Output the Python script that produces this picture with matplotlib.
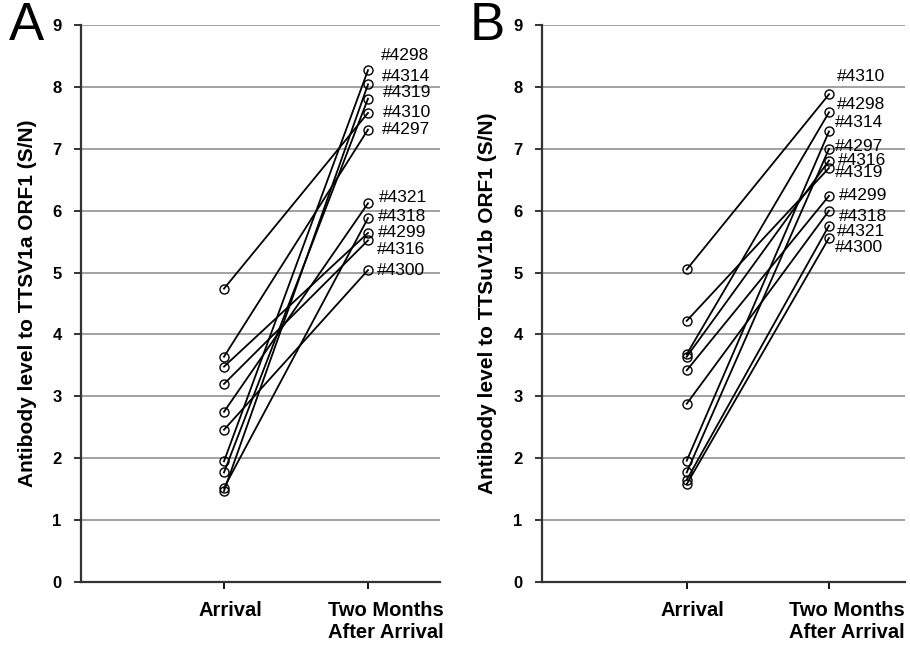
import numpy as np
import matplotlib
matplotlib.use('Agg')
import matplotlib.pyplot as plt

plt.rcParams['font.family'] = ['Liberation Sans', 'DejaVu Sans']

categories = ['Arrival', 'Two Months\nAfter Arrival']

# panel A: TTSV1a ORF1
ids_a = ['#4298', '#4314', '#4319', '#4310', '#4297',
         '#4321', '#4318', '#4299', '#4316', '#4300']
arrival_a = [1.95, 1.47, 1.77, 4.74, 3.64, 2.75, 1.52, 3.48, 3.20, 2.46]
after_a = [8.27, 8.04, 7.81, 7.58, 7.31, 6.12, 5.88, 5.64, 5.52, 5.04]

# panel B: TTSuV1b ORF1
ids_b = ['#4310', '#4298', '#4314', '#4297', '#4316',
         '#4319', '#4299', '#4318', '#4321', '#4300']
arrival_b = [5.05, 3.68, 1.96, 1.77, 3.64, 4.22, 3.42, 2.88, 1.65, 1.58]
after_b = [7.88, 7.59, 7.28, 7.00, 6.81, 6.69, 6.24, 6.00, 5.76, 5.56]

# label nudges in pixels (dx, dy; dy positive = down), like hand-moved excel labels
nudge_a = [(13, -15), (14, -8), (15, -6), (15, 0), (14, 0),
           (11, -6), (10, -2), (10, 0), (9, 9), (9, 0)]
nudge_b = [(8, -18), (8, -8), (6, -9), (6, -2), (9, 0),
           (6, 5), (10, 0), (10, 6), (8, 6), (6, 10)]
# category labels sit a bit right of their markers in the original
cat_shift_px = [6, 18]

fig = plt.figure(figsize=(9.1, 6.45), dpi=100)
ax_a = fig.add_axes([81 / 910, 1 - 582 / 645, 359 / 910, 557 / 645])
ax_b = fig.add_axes([542 / 910, 1 - 582 / 645, 363 / 910, 557 / 645])

panels = [
    (ax_a, 'A', ids_a, arrival_a, after_a, nudge_a,
     'Antibody level to TTSV1a ORF1 (S/N)', (0.007, 2.5), 81),
    (ax_b, 'B', ids_b, arrival_b, after_b, nudge_b,
     'Antibody level to TTSuV1b ORF1 (S/N)', (-0.017, 2.534), 542),
]

x = np.arange(1, len(categories) + 1)
for ax, letter, ids, before, after, nudge, ylabel, xlim, left_px in panels:
    for i, name in enumerate(ids):
        ax.plot(x, [before[i], after[i]], color='black', lw=1.3,
                marker='o', ms=6.5, mfc='none', mec='black', mew=1.0,
                zorder=3)
        dx, dy = nudge[i]
        ax.annotate(name, (x[1], after[i]), xytext=(dx * 0.72, -dy * 0.72),
                    textcoords='offset points', ha='left', va='center',
                    fontsize=12.5, zorder=4)
    ax.set_xlim(*xlim)
    ax.set_ylim(0, 9)
    ax.set_yticks(range(0, 10))
    ax.set_xticks(x)
    ax.set_xticklabels([''] * len(categories))
    for xi, cat, shift in zip(x, categories, cat_shift_px):
        ax.annotate(cat, (xi, 0), xycoords=('data', 'axes fraction'),
                    xytext=(shift * 0.72, -14), textcoords='offset points',
                    ha='center', va='top', multialignment='center',
                    fontweight='bold', fontsize=14.5, linespacing=1.15,
                    annotation_clip=False)
    for lab in ax.get_yticklabels():
        lab.set_fontweight('bold')
        lab.set_fontsize(12)
    ax.yaxis.grid(True, color='#9a9a9a', lw=1.3)
    ax.set_axisbelow(True)
    for side in ('top', 'right'):
        ax.spines[side].set_visible(False)
    for side in ('left', 'bottom'):
        ax.spines[side].set_color('#333333')
        ax.spines[side].set_linewidth(1.6)
    ax.tick_params(axis='y', length=5, width=1.4, color='#333333', pad=9)
    ax.tick_params(axis='x', length=5, width=1.4, color='#111111', pad=9)
    ax.set_ylabel(ylabel, fontweight='bold', fontsize=15)
    ax.yaxis.set_label_coords(-0.123, 0.5)
    fig.text((left_px - 55) / 910, 1 - 26 / 645, letter, fontsize=38,
             ha='center', va='center')

fig.savefig('out.png', dpi=100)
